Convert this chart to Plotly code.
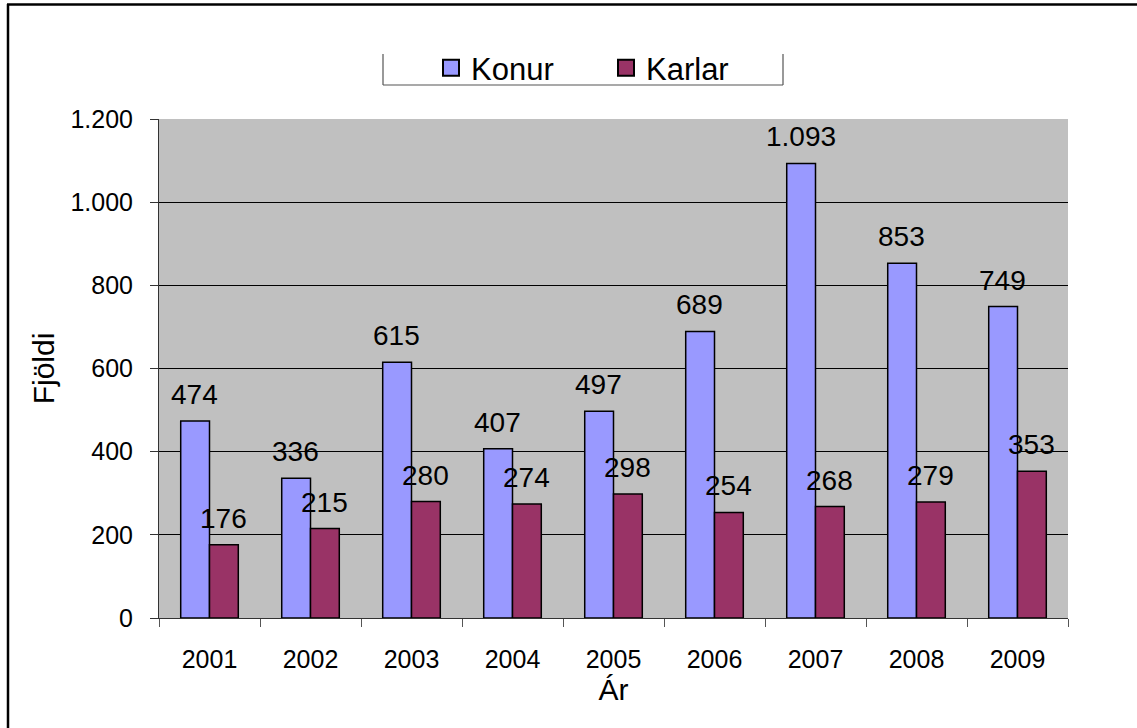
import plotly.graph_objects as go

years = ["2001", "2002", "2003", "2004", "2005", "2006", "2007", "2008", "2009"]
konur = [474, 336, 615, 407, 497, 689, 1093, 853, 749]
karlar = [176, 215, 280, 274, 298, 254, 268, 279, 353]
series_names = ["Konur", "Karlar"]
colors = ["#9999FF", "#993366"]
y_ticks = [0, 200, 400, 600, 800, 1000, 1200]

FONT = "Liberation Sans, Arial, sans-serif"
W, H = 1137, 728
L, T = 159, 119
PW, PH = 909, 499
R, B = W - L - PW, H - T - PH


def px_x(px):
    return (px - L) / PW


def px_y(py):
    return (T + PH - py) / PH


def fmt(v):
    return f"{v:,}".replace(",", ".")


fig = go.Figure()
for name, vals, col in zip(series_names, (konur, karlar), colors):
    fig.add_trace(go.Bar(x=years, y=vals, name=name, showlegend=False,
                         marker=dict(color=col, line=dict(color="black", width=1.5))))
# legend entries with larger square swatches
for name, col in zip(series_names, colors):
    fig.add_trace(go.Scatter(x=[None], y=[None], mode="markers", name=name,
                             marker=dict(symbol="square", size=16, color=col,
                                         line=dict(color="black", width=2))))

annotations = []
for i, yr in enumerate(years):
    for vals, shift in ((konur, -15), (karlar, 14)):
        annotations.append(dict(x=i, y=vals[i], xref="x", yref="y", text=fmt(vals[i]),
                                showarrow=False, xshift=shift, yshift=9, yanchor="bottom",
                                font=dict(family=FONT, size=28, color="black")))

shapes = [
    # outer border (left + top)
    dict(type="line", xref="paper", yref="paper", x0=px_x(8), x1=px_x(8), y0=px_y(4), y1=px_y(760),
         line=dict(color="black", width=2.5)),
    dict(type="line", xref="paper", yref="paper", x0=px_x(7), x1=px_x(1160), y0=px_y(4.5), y1=px_y(4.5),
         line=dict(color="black", width=2.5)),
    # legend box (left, bottom, right)
    dict(type="line", xref="paper", yref="paper", x0=px_x(383), x1=px_x(383), y0=px_y(54), y1=px_y(85),
         line=dict(color="#555555", width=1.2)),
    dict(type="line", xref="paper", yref="paper", x0=px_x(383), x1=px_x(783), y0=px_y(85), y1=px_y(85),
         line=dict(color="#555555", width=1.2)),
    dict(type="line", xref="paper", yref="paper", x0=px_x(783), x1=px_x(783), y0=px_y(54), y1=px_y(85),
         line=dict(color="#555555", width=1.2)),
]

fig.update_layout(
    width=W, height=H,
    margin=dict(l=L, r=R, t=T, b=B, pad=0),
    paper_bgcolor="white",
    plot_bgcolor="#C0C0C0",
    barmode="group", bargap=0.43, bargroupgap=0,
    separators=",.",
    font=dict(family=FONT, color="black"),
    showlegend=True,
    legend=dict(orientation="h", x=px_x(431), y=px_y(68), xanchor="left", yanchor="middle",
                font=dict(family=FONT, size=31, color="black"), bgcolor="rgba(0,0,0,0)",
                traceorder="normal", itemwidth=30, entrywidth=130, entrywidthmode="pixels"),
    annotations=annotations,
    shapes=shapes,
)

fig.update_xaxes(type="category", range=[-0.5, len(years) - 0.5], tickson="boundaries",
                 ticks="outside", ticklen=8, ticklabelstandoff=19,
                 tickcolor="#555555", showline=True, linecolor="#333333", linewidth=1,
                 tickfont=dict(family=FONT, size=25, color="black"), tickangle=0,
                 title=dict(text="Ár", font=dict(family=FONT, size=30, color="black"), standoff=5),
                 showgrid=False)
fig.update_yaxes(range=[0, 1200], tickvals=y_ticks, tickformat=",d", ticks="outside", ticklen=8,
                 ticklabelstandoff=12,
                 tickcolor="#333333", showline=True, linecolor="#333333", linewidth=1,
                 tickfont=dict(family=FONT, size=25, color="black"),
                 title=dict(text="Fjöldi", font=dict(family=FONT, size=30, color="black"), standoff=6),
                 showgrid=True, gridcolor="black", gridwidth=1, zeroline=False)

fig.write_html("out.html", config={"displayModeBar": False},
               post_script="document.body.style.margin='0';")
